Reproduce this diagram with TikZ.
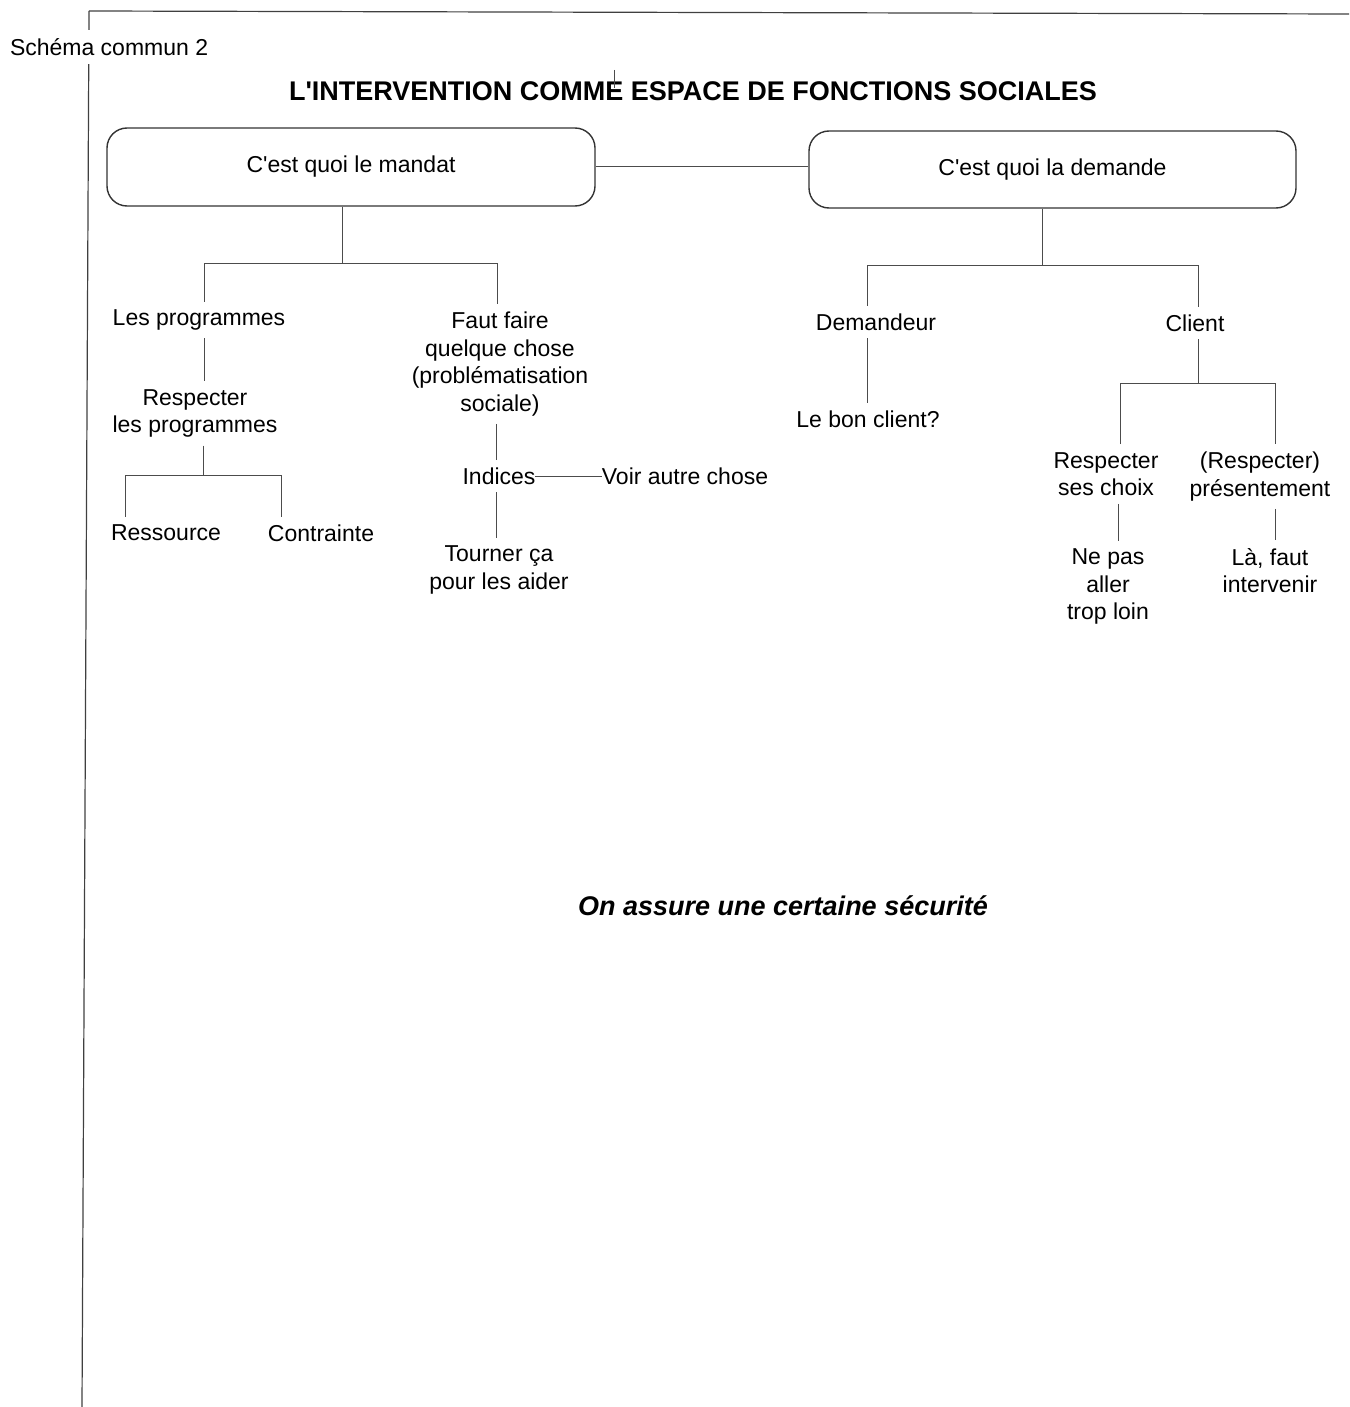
\documentclass[tikz,border=0pt]{standalone}
\usepackage{fontspec}
\setmainfont{Liberation Sans}[Ligatures=TeXOff]
\begin{document}
\begin{tikzpicture}[x=1pt,y=-1pt,
  txt/.style={font=\fontsize{23}{27.5}\selectfont, align=center,
    inner sep=0pt, outer xsep=0pt, outer ysep=8pt},
  box/.style={draw=black!80, line width=1.4pt, rounded corners=20pt,
    minimum width=488pt, minimum height=78pt,
    font=\fontsize{23}{27.5}\selectfont},
  link/.style={draw=black!70, line width=1pt},
  frame/.style={draw=black!75, line width=1.2pt},
]
\useasboundingbox (0,0) rectangle (1349,1407);

% page frame
\draw[frame] (89,11) -- (1349,14);
\draw[frame] (89,11) -- (82,1407);
\node[txt, anchor=west, fill=white, inner ysep=8pt, outer ysep=0pt] (schema) at (10,47) {Schéma commun 2};

% title
\node[font=\bfseries\fontsize{27}{30}\selectfont, inner sep=0pt] (title) at (693,91)
  {L'INTERVENTION COMME ESPACE DE FONCTIONS SOCIALES};
\draw[link, line width=0.8pt] (614,70) -- (614,88);

% the two questions
\node[box] (m) at (351,167) {C'est quoi le mandat};
\node[box, minimum width=487pt, minimum height=77pt] (d) at (1052.5,169.5) {C'est quoi la demande};
\draw[link] (m.east) -- (m.east -| d.west);

% mandate branch
\node[txt] (prog)  at (199,320) {Les programmes};
\node[txt] (resp)  at (195,413.5) {Respecter\\les programmes};
\node[txt] (ress)  at (166,533) {Ressource};
\node[txt] (contr) at (321,533) {Contrainte};
\node[txt] (faut)  at (500,364) {Faut faire\\quelque chose\\(problématisation\\sociale)};
\node[txt] (ind)   at (499,476) {Indices};
\node[txt] (voir)  at (685,476) {Voir autre chose};
\node[txt] (tour)  at (499,570) {Tourner ça\\pour les aider};

\coordinate (mj) at (342,263);
\coordinate (pl) at (204,263);
\coordinate (pr) at (497,263);
\draw[link] (mj |- m.south) -- (mj);
\draw[link] (pl |- prog.north) -- (pl) -- (pr) -- (pr |- faut.north);
\draw[link] (pl |- prog.south) -- (pl |- resp.north);

\coordinate (rj) at (203,475);
\coordinate (rl) at (125,475);
\coordinate (rr) at (281,475);
\draw[link] (rj |- resp.south) -- (rj);
\draw[link] (rl |- ress.north) -- (rl) -- (rr) -- (rr |- contr.north);

\coordinate (fx) at (496,476);
\draw[link] (fx |- faut.south) -- (fx |- ind.north);
\draw[link] (fx |- ind.south) -- (fx |- tour.north);
\draw[link] (ind.east) -- (voir.west);

% request branch
\node[txt] (dem) at (876,322) {Demandeur};
\node[txt] (bon) at (868,419) {Le bon client?};
\node[txt] (cli) at (1195,323) {Client};
\node[txt] (rsc) at (1106,474) {Respecter\\ses choix};
\node[txt] (rpr) at (1260,476.5) {(Respecter)\\présentement};
\node[txt] (nep) at (1108,586.5) {Ne pas\\aller\\trop loin};
\node[txt] (la)  at (1270,570.5) {Là, faut\\intervenir};

\coordinate (dj) at (1042,265);
\coordinate (dl) at (867,265);
\coordinate (dr) at (1198,265);
\draw[link] (dj |- d.south) -- (dj);
\draw[link] (dl |- dem.north) -- (dl) -- (dr) -- (dr |- cli.north);
\draw[link] (dl |- dem.south) -- (dl |- bon.north);

\coordinate (cj) at (1198,383);
\coordinate (cl) at (1120,383);
\coordinate (cr) at (1275,383);
\draw[link] (cj |- cli.south) -- (cj);
\draw[link] (cl |- rsc.north) -- (cl) -- (cr) -- (cr |- rpr.north);

\coordinate (nx) at (1118,520);
\draw[link] (nx |- rsc.south) -- (nx |- nep.north);
\draw[link] (cr |- rpr.south) -- (cr |- la.north);

% conclusion
\node[font=\bfseries\itshape\fontsize{27}{30}\selectfont, inner sep=0pt] (secu) at (783,906)
  {On assure une certaine sécurité};
\end{tikzpicture}
\end{document}
